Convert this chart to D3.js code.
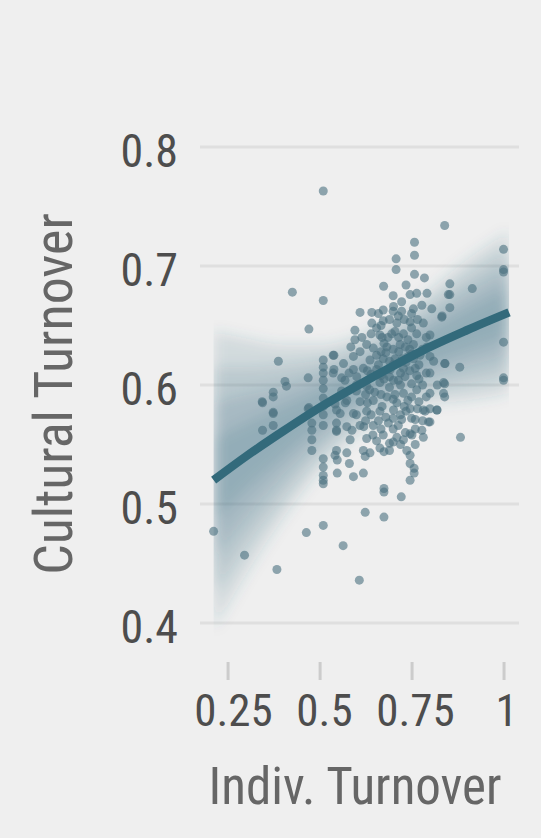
<!DOCTYPE html>
<html>
<head>
<meta charset="utf-8">
<script src="https://cdn.jsdelivr.net/npm/d3@7"></script>
<style>
  html, body { margin: 0; padding: 0; background: #efefef; }
  svg { display: block; }
  svg text { font-family: "Roboto Condensed", Roboto, sans-serif; }
</style>
</head>
<body>
<div id="chart"></div>
<script>
// tick values
const xTicks = [0.25, 0.5, 0.75, 1];
const yTicks = [0.4, 0.5, 0.6, 0.7, 0.8];

// fitted curve
const fitX = [0.212, 0.3, 0.4, 0.5, 0.6, 0.7, 0.8, 0.9, 1.015];
const fitY = [0.520, 0.540, 0.561, 0.581, 0.599, 0.616, 0.632, 0.646, 0.661];

// half widths of the nested uncertainty bands, inner to outer
const band50 = [0.035, 0.028, 0.021, 0.015, 0.012, 0.012, 0.014, 0.017, 0.020];
const band80 = [0.065, 0.052, 0.038, 0.028, 0.022, 0.022, 0.025, 0.031, 0.036];
const band95 = [0.095, 0.075, 0.056, 0.040, 0.032, 0.032, 0.037, 0.045, 0.052];
const band99 = [0.125, 0.099, 0.073, 0.053, 0.042, 0.042, 0.048, 0.059, 0.068];

// scattered observations [indiv, cultural]
const sparsePoints = [
  [0.212, 0.477], [0.296, 0.457], [0.344, 0.586], [0.345, 0.585], [0.345, 0.562],
  [0.374, 0.594], [0.374, 0.590], [0.374, 0.577], [0.374, 0.576], [0.374, 0.566],
  [0.384, 0.445], [0.388, 0.620], [0.406, 0.603], [0.410, 0.599], [0.426, 0.678],
  [0.464, 0.476], [0.471, 0.647], [0.469, 0.606], [0.469, 0.580], [0.471, 0.581],
  [0.479, 0.568], [0.479, 0.562], [0.479, 0.554], [0.479, 0.545],
  [0.510, 0.763], [0.510, 0.671], [0.510, 0.621], [0.510, 0.615], [0.510, 0.610],
  [0.510, 0.604], [0.510, 0.597], [0.510, 0.589], [0.510, 0.582], [0.510, 0.575],
  [0.510, 0.566], [0.510, 0.538], [0.510, 0.531], [0.510, 0.524], [0.510, 0.520],
  [0.510, 0.517], [0.510, 0.482],
  [0.539, 0.625], [0.539, 0.613], [0.546, 0.579], [0.546, 0.568], [0.546, 0.561],
  [0.548, 0.537], [0.548, 0.526], [0.542, 0.541], [0.564, 0.465], [0.574, 0.543],
  [0.581, 0.534], [0.592, 0.523], [0.608, 0.436], [0.619, 0.526], [0.624, 0.540],
  [0.624, 0.493], [0.637, 0.543], [0.675, 0.544], [0.675, 0.513], [0.675, 0.510],
  [0.675, 0.489], [0.690, 0.551], [0.722, 0.506], [0.728, 0.554], [0.746, 0.534],
  [0.757, 0.530], [0.757, 0.526], [0.746, 0.520], [0.751, 0.558],
  [0.708, 0.706], [0.708, 0.697], [0.758, 0.720], [0.758, 0.709], [0.758, 0.693],
  [0.674, 0.683], [0.735, 0.684], [0.785, 0.690], [0.840, 0.734], [0.854, 0.685],
  [0.854, 0.676], [0.854, 0.665], [0.915, 0.681], [0.881, 0.615], [0.883, 0.556],
  [0.840, 0.618], [0.840, 0.601], [0.840, 0.590], [0.819, 0.579], [0.833, 0.658],
  [0.796, 0.569], [0.787, 0.578],
  [1.0, 0.714], [1.0, 0.697], [1.0, 0.695], [1.0, 0.636], [1.0, 0.606], [1.0, 0.604]
];

const densePoints = [
  [0.610, 0.661], [0.642, 0.661], [0.673, 0.663], [0.642, 0.652], [0.673, 0.654],
  [0.596, 0.646], [0.596, 0.638], [0.628, 0.634], [0.664, 0.642], [0.701, 0.666],
  [0.723, 0.670], [0.746, 0.676], [0.764, 0.677], [0.792, 0.677], [0.723, 0.662],
  [0.755, 0.664], [0.778, 0.667], [0.805, 0.664], [0.832, 0.657], [0.850, 0.676],
  [0.710, 0.652], [0.746, 0.653], [0.782, 0.652], [0.696, 0.643], [0.728, 0.643],
  [0.764, 0.643], [0.800, 0.642], [0.646, 0.631], [0.683, 0.632], [0.719, 0.634],
  [0.755, 0.634], [0.792, 0.632], [0.637, 0.621], [0.673, 0.622], [0.705, 0.622],
  [0.741, 0.624], [0.773, 0.625], [0.800, 0.624], [0.619, 0.614], [0.655, 0.613],
  [0.692, 0.613], [0.728, 0.614], [0.760, 0.614], [0.841, 0.618], [0.537, 0.625],
  [0.592, 0.624], [0.592, 0.613], [0.565, 0.618], [0.537, 0.610], [0.569, 0.604],
  [0.601, 0.607], [0.628, 0.599], [0.664, 0.602], [0.701, 0.604], [0.732, 0.607],
  [0.764, 0.608], [0.800, 0.610], [0.837, 0.602], [0.837, 0.593], [0.728, 0.593],
  [0.764, 0.596], [0.800, 0.593], [0.683, 0.590], [0.646, 0.587], [0.610, 0.586],
  [0.574, 0.587], [0.542, 0.584], [0.556, 0.576], [0.592, 0.576], [0.628, 0.578],
  [0.664, 0.578], [0.701, 0.579], [0.746, 0.580], [0.782, 0.579], [0.819, 0.579],
  [0.800, 0.569], [0.760, 0.571], [0.723, 0.571], [0.687, 0.568], [0.646, 0.566],
  [0.610, 0.566], [0.574, 0.565], [0.546, 0.562], [0.673, 0.558], [0.710, 0.556],
  [0.746, 0.559], [0.782, 0.556], [0.628, 0.555], [0.583, 0.554], [0.664, 0.547],
  [0.737, 0.545], [0.619, 0.545], [0.546, 0.545], [0.746, 0.541],
  [0.655, 0.648], [0.690, 0.655], [0.715, 0.640], [0.750, 0.648], [0.680, 0.627],
  [0.715, 0.628], [0.745, 0.630], [0.660, 0.617], [0.700, 0.617], [0.735, 0.619],
  [0.770, 0.617], [0.650, 0.594], [0.690, 0.598], [0.720, 0.600], [0.750, 0.601],
  [0.780, 0.600], [0.670, 0.582], [0.710, 0.585], [0.740, 0.587], [0.770, 0.586],
  [0.640, 0.575], [0.680, 0.573], [0.720, 0.575], [0.760, 0.563], [0.700, 0.563],
  [0.630, 0.585], [0.600, 0.595], [0.580, 0.610], [0.610, 0.628], [0.660, 0.660],
  [0.700, 0.675], [0.730, 0.655], [0.790, 0.640], [0.810, 0.620], [0.820, 0.600],
  [0.790, 0.590], [0.670, 0.640], [0.720, 0.610], [0.690, 0.607], [0.640, 0.609],
  [0.600, 0.575], [0.620, 0.565], [0.655, 0.553], [0.690, 0.545], [0.720, 0.550],
  [0.760, 0.550], [0.780, 0.570], [0.800, 0.580], [0.560, 0.595], [0.570, 0.585],
  [0.705, 0.645], [0.675, 0.635], [0.740, 0.638], [0.655, 0.625], [0.725, 0.622],
  [0.690, 0.620], [0.755, 0.622], [0.675, 0.605], [0.705, 0.592], [0.735, 0.578],
  [0.660, 0.570], [0.700, 0.572], [0.625, 0.592], [0.770, 0.605], [0.745, 0.612],
  [0.667, 0.650], [0.714, 0.658], [0.750, 0.660], [0.686, 0.640], [0.733, 0.632],
  [0.667, 0.628], [0.700, 0.630], [0.750, 0.626], [0.780, 0.630], [0.615, 0.640],
  [0.630, 0.612], [0.667, 0.608], [0.714, 0.604], [0.750, 0.590], [0.790, 0.610],
  [0.600, 0.600], [0.636, 0.596], [0.667, 0.592], [0.700, 0.588], [0.730, 0.582],
  [0.625, 0.570], [0.667, 0.563], [0.714, 0.566], [0.750, 0.572], [0.778, 0.562],
  [0.588, 0.562], [0.645, 0.558], [0.700, 0.552], [0.733, 0.560], [0.766, 0.580],
  [0.560, 0.606], [0.585, 0.632], [0.640, 0.643], [0.700, 0.662], [0.766, 0.655]
];

const width = 541, height = 838;

const svg = d3.select("#chart")
  .append("svg")
  .attr("width", width)
  .attr("height", height);

svg.append("rect")
  .attr("width", width)
  .attr("height", height)
  .attr("fill", "#efefef");

// Roboto Condensed is not always there: measure and squeeze plain Roboto if needed
const probe = svg.append("text").style("font-size", "50px").text("Indiv. Turnover 0.25");
const wCond = probe.node().getComputedTextLength();
probe.style("font-family", "Roboto");
const wPlain = probe.node().getComputedTextLength();
probe.remove();
const squeeze = wCond < wPlain * 0.97 ? 1 : 0.86;

const x = d3.scaleLinear().domain([0.175, 1.042]).range([200, 519]);
const y = d3.scaleLinear().domain([0.4, 0.8]).range([623, 147]);
// the tick labels sit a little right of their tick marks in the reference
const xLabel = d3.scaleLinear().domain([0.25, 1]).range([233, 506]);

// grid lines
svg.append("g")
  .selectAll("line")
  .data(yTicks)
  .enter()
  .append("line")
    .attr("x1", x.range()[0])
    .attr("x2", x.range()[1])
    .attr("y1", d => y(d))
    .attr("y2", d => y(d))
    .attr("stroke", "#dfdfdf")
    .attr("stroke-width", 3);

// uncertainty ribbons, blurred so they read as a gradient
const defs = svg.append("defs");
defs.append("clipPath").attr("id", "bandClip")
  .append("rect")
    .attr("x", x(fitX[0]))
    .attr("y", 0)
    .attr("width", x(fitX[fitX.length - 1]) - x(fitX[0]))
    .attr("height", height);
defs.append("filter").attr("id", "soft")
  .attr("x", "-20%").attr("y", "-20%").attr("width", "140%").attr("height", "140%")
  .append("feGaussianBlur").attr("stdDeviation", 7);

const fit = fitX.map((v, i) => ({x: v, y: fitY[i]}));

const area = hw => d3.area()
  .curve(d3.curveMonotoneX)
  .x(d => x(d.x))
  .y0((d, i) => y(d.y - hw[i]))
  .y1((d, i) => y(d.y + hw[i]));

const bandG = svg.append("g").attr("clip-path", "url(#bandClip)")
  .append("g").attr("filter", "url(#soft)");

[band99, band95, band80, band50].forEach(hw => {
  bandG.append("path")
    .datum(fit)
    .attr("d", area(hw))
    .attr("fill", "#2f6477")
    .attr("fill-opacity", 0.15);
});

// points
svg.append("g")
  .selectAll("circle")
  .data(sparsePoints.concat(densePoints))
  .enter()
  .append("circle")
    .attr("cx", d => x(d[0]))
    .attr("cy", d => y(d[1]))
    .attr("r", 4.5)
    .attr("fill", "#4a6f7e")
    .attr("fill-opacity", 0.6);

// fitted line
svg.append("path")
  .datum(fit)
  .attr("d", d3.line().curve(d3.curveMonotoneX).x(d => x(d.x)).y(d => y(d.y)))
  .attr("fill", "none")
  .attr("stroke", "#336a7b")
  .attr("stroke-width", 8.5);

// x axis
const xAxis = svg.append("g")
  .attr("transform", "translate(0,662)")
  .call(d3.axisBottom(x).tickValues(xTicks).tickFormat(d3.format("")).tickSize(18).tickPadding(14));
xAxis.attr("font-family", null);
xAxis.select(".domain").remove();
xAxis.selectAll(".tick line").attr("stroke", "#cccccc").attr("stroke-width", 3);
xAxis.selectAll(".tick text")
  .attr("fill", "#4d4d4d")
  .attr("x", d => (xLabel(d) - x(d)) / squeeze)
  .attr("transform", `scale(${squeeze},1)`)
  .style("font-size", "45px");

// y axis
const yAxis = svg.append("g")
  .attr("transform", "translate(200,0)")
  .call(d3.axisLeft(y).tickValues(yTicks).tickFormat(d3.format("")).tickSize(0).tickPadding(22));
yAxis.attr("font-family", null);
yAxis.select(".domain").remove();
yAxis.selectAll(".tick text")
  .attr("fill", "#4d4d4d")
  .attr("x", -22 / squeeze)
  .attr("dy", "0.43em")
  .attr("transform", `scale(${squeeze},1)`)
  .style("font-size", "46px");

// axis titles
svg.append("text")
  .attr("transform", `translate(355,804) scale(${squeeze},1)`)
  .attr("text-anchor", "middle")
  .attr("fill", "#666666")
  .style("font-size", "51px")
  .text("Indiv. Turnover");

svg.append("text")
  .attr("transform", `translate(72,394) rotate(-90) scale(${squeeze},1)`)
  .attr("text-anchor", "middle")
  .attr("fill", "#666666")
  .style("font-size", "54px")
  .text("Cultural Turnover");
</script>
</body>
</html>
